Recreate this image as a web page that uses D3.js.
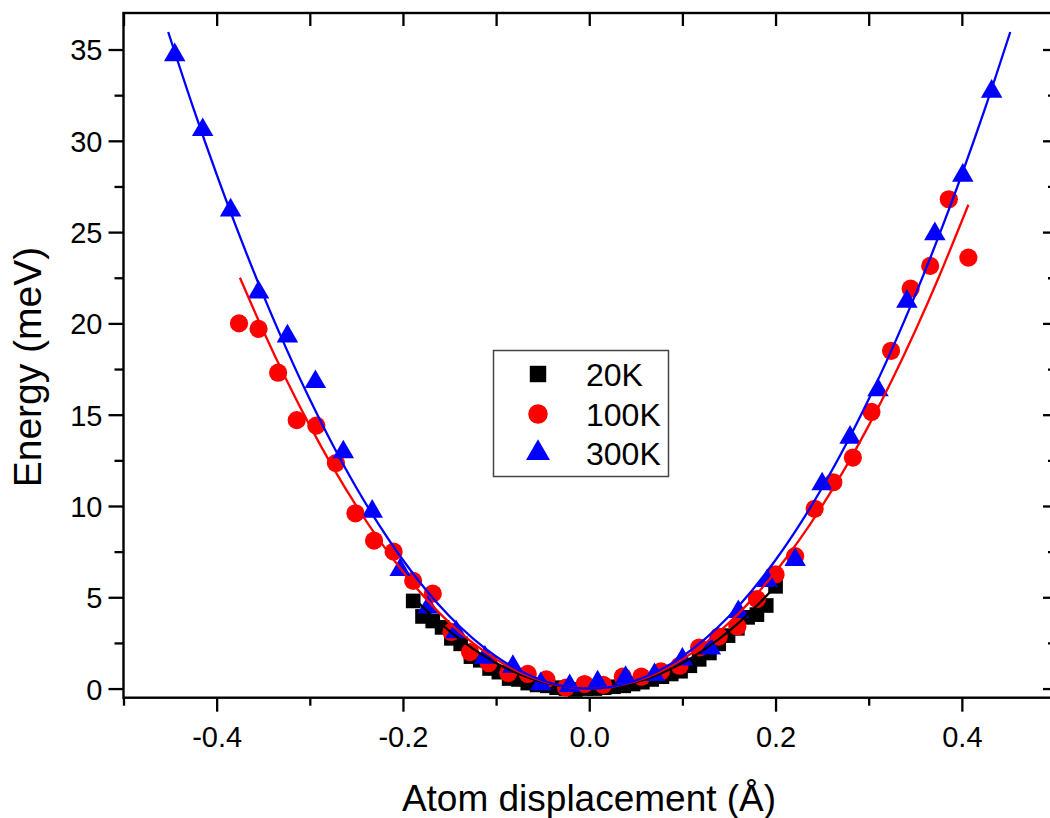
<!DOCTYPE html>
<html>
<head>
<meta charset="utf-8">
<script src="https://cdn.jsdelivr.net/npm/d3@7"></script>
<style>
  body { margin: 0; background: #fff; }
  text { font-family: "Liberation Sans", Arial, sans-serif; }
</style>
</head>
<body>
<script>
// series names and colours
var seriesNames = ["20K", "100K", "300K"];
var seriesColors = ["#000000", "#ff0000", "#0000ff"];

// 20K (squares)
var x20 = [-0.189,-0.179,-0.168,-0.158,-0.148,-0.138,-0.127,-0.117,-0.107,-0.097,
           -0.086,-0.076,-0.066,-0.056,-0.045,-0.035,-0.025,-0.015,-0.004,0.006,
           0.016,0.026,0.037,0.047,0.057,0.067,0.078,0.088,0.098,0.108,
           0.118,0.129,0.139,0.149,0.159,0.170,0.180,0.190,0.200];
var e20 = [4.8,3.95,3.7,3.35,2.75,2.45,1.75,1.55,1.1,0.9,
           0.55,0.5,0.3,0.2,0.15,0.05,0.0,-0.05,0.0,0.0,
           0.05,0.1,0.15,0.25,0.35,0.5,0.65,0.8,0.95,1.25,
           1.6,1.95,2.45,2.9,3.3,3.9,4.05,4.55,5.6];

// 100K (circles)
var x100 = [-0.376,-0.355,-0.334,-0.314,-0.293,-0.272,-0.251,-0.231,-0.210,-0.189,
            -0.168,-0.148,-0.128,-0.108,-0.087,-0.066,-0.046,-0.025,-0.005,0.015,
            0.036,0.056,0.077,0.097,0.118,0.139,0.159,0.180,0.200,0.221,
            0.242,0.262,0.283,0.303,0.324,0.345,0.366,0.386,0.407];
var e100 = [20.0,19.7,17.3,14.7,14.4,12.35,9.6,8.1,7.5,5.9,
            5.2,3.1,2.0,1.4,0.85,0.8,0.5,0.05,0.25,0.2,
            0.65,0.65,0.95,1.25,2.25,2.85,3.4,4.9,6.25,7.25,
            9.85,11.3,12.65,15.15,18.5,21.9,23.15,26.8,23.6];

// 300K (triangles)
var x300 = [-0.445,-0.415,-0.385,-0.355,-0.324,-0.294,-0.264,-0.233,-0.203,-0.173,
            -0.143,-0.112,-0.082,-0.052,-0.021,0.009,0.039,0.070,0.100,0.130,
            0.160,0.191,0.221,0.250,0.280,0.310,0.341,0.371,0.401,0.432];
var e300 = [34.7,30.6,26.2,21.7,19.3,16.8,12.95,9.7,6.5,4.45,
            3.1,1.7,1.2,0.25,0.15,0.35,0.6,0.75,1.6,2.2,
            4.2,5.9,7.05,11.2,13.75,16.35,21.2,24.9,28.1,32.7];

// fitted curves
var fitX20 = [-0.19,-0.175,-0.15,-0.125,-0.1,-0.075,-0.05,-0.025,0,0.025,0.05,0.075,0.1,0.125,0.15,0.175,0.2];
var fitE20 = [5.05,4.29,3.15,2.19,1.4,0.79,0.35,0.09,0,0.09,0.35,0.79,1.4,2.19,3.15,4.29,5.6];

var fitX100 = [-0.375,-0.35,-0.325,-0.3,-0.275,-0.25,-0.225,-0.2,-0.175,-0.15,-0.125,-0.1,-0.075,-0.05,-0.025,0,
               0.025,0.05,0.075,0.1,0.125,0.15,0.175,0.2,0.225,0.25,0.275,0.3,0.325,0.35,0.375,0.407];
var fitE100 = [22.5,19.6,16.9,14.4,12.1,10.0,8.1,6.4,4.9,3.6,2.5,1.6,0.9,0.4,0.1,0,
               0.1,0.4,0.9,1.6,2.5,3.6,4.9,6.4,8.1,10.0,12.1,14.4,16.9,19.6,22.5,26.5];

var fitX300 = [-0.452,-0.425,-0.4,-0.375,-0.35,-0.325,-0.3,-0.275,-0.25,-0.225,-0.2,-0.175,-0.15,-0.125,-0.1,-0.075,-0.05,-0.025,0,
               0.025,0.05,0.075,0.1,0.125,0.15,0.175,0.2,0.225,0.25,0.275,0.3,0.325,0.35,0.375,0.4,0.425,0.452];
var fitE300 = [35.96,31.79,28.16,24.75,21.56,18.59,15.84,13.31,11.0,8.91,7.04,5.39,3.96,2.75,1.76,0.99,0.44,0.11,0,
               0.11,0.44,0.99,1.76,2.75,3.96,5.39,7.04,8.91,11.0,13.31,15.84,18.59,21.56,24.75,28.16,31.79,35.96];

// ticks
var xMajor = [-0.4, -0.2, 0.0, 0.2, 0.4];
var xMinor = [-0.5, -0.3, -0.1, 0.1, 0.3, 0.5];
var yMajor = [0, 5, 10, 15, 20, 25, 30, 35];
var yMinor = [2.5, 7.5, 12.5, 17.5, 22.5, 27.5, 32.5];

function init()
{
    var w = 1050;
    var h = 818;

    var svg = d3.select("body")
                .append("svg")
                .attr("width", w)
                .attr("height", h);

    var x = d3.scaleLinear().domain([-0.5, 0.5]).range([123.5, 1055]);
    var y = d3.scaleLinear().domain([-0.5, 37]).range([697.7, 13]);

    var fmtX = function(d) { return d.toFixed(1); };

    // bottom axis
    var bottom = svg.append("g").attr("transform", "translate(0," + y(-0.5) + ")");
    bottom.call(d3.axisBottom(x).tickValues(xMajor).tickSize(14).tickFormat(fmtX));
    bottom.append("g").call(d3.axisBottom(x).tickValues(xMinor).tickSize(8).tickFormat(""));

    // top axis, ticks inward
    var top = svg.append("g").attr("transform", "translate(0," + y(37) + ")");
    top.call(d3.axisBottom(x).tickValues(xMajor.concat(xMinor)).tickSize(13).tickFormat(""));

    // left axis
    var left = svg.append("g").attr("transform", "translate(" + x(-0.5) + ",0)");
    left.call(d3.axisLeft(y).tickValues(yMajor).tickSize(15).tickFormat(d3.format("d")));
    left.append("g").call(d3.axisLeft(y).tickValues(yMinor).tickSize(9).tickFormat(""));

    // right axis, ticks inward
    var right = svg.append("g").attr("transform", "translate(" + x(0.5) + ",0)");
    right.call(d3.axisLeft(y).tickValues(yMajor).tickSize(12).tickFormat(""));
    right.append("g").call(d3.axisLeft(y).tickValues(yMinor).tickSize(7).tickFormat(""));

    svg.selectAll(".domain").remove();
    svg.selectAll(".tick line").attr("stroke", "#000").attr("stroke-width", 2.3);
    svg.selectAll(".tick text").attr("fill", "#000").style("font-size", "29px");
    bottom.selectAll(".tick text").attr("dy", "1.1em");
    left.selectAll(".tick text").attr("x", -21).attr("dy", "0.36em");

    // frame
    svg.append("rect")
       .attr("x", x(-0.5))
       .attr("y", y(37))
       .attr("width", x(0.5) - x(-0.5))
       .attr("height", y(-0.5) - y(37))
       .attr("fill", "none")
       .attr("stroke", "#000")
       .attr("stroke-width", 2.4);

    // symbols
    var shapes = [d3.symbolSquare, d3.symbolCircle, d3.symbolTriangle];
    var sizes = [215, 260, 200];
    var xs = [x20, x100, x300];
    var es = [e20, e100, e300];

    var plot = svg.append("g");
    for (var s = 0; s < 3; s++) {
        var pts = xs[s].map(function(v, i) { return {x: v, e: es[s][i]}; });
        plot.append("g")
            .selectAll("path")
            .data(pts)
            .enter()
            .append("path")
            .attr("d", d3.symbol().type(shapes[s]).size(sizes[s]))
            .attr("transform", function(d) { return "translate(" + x(d.x) + "," + y(d.e) + ")"; })
            .attr("fill", seriesColors[s]);
    }

    // fit lines
    var fx = [fitX20, fitX100, fitX300];
    var fe = [fitE20, fitE100, fitE300];
    var line = d3.line()
                 .x(function(d) { return x(d[0]); })
                 .y(function(d) { return y(d[1]); })
                 .curve(d3.curveCatmullRom);
    for (var k = 0; k < 3; k++) {
        var lp = fx[k].map(function(v, i) { return [v, fe[k][i]]; });
        plot.append("path")
            .attr("d", line(lp))
            .attr("fill", "none")
            .attr("stroke", seriesColors[k])
            .attr("stroke-width", 2.3);
    }

    // legend
    var lg = svg.append("g");
    lg.append("rect")
      .attr("x", 493.5).attr("y", 350.5)
      .attr("width", 175).attr("height", 126)
      .attr("fill", "#fff")
      .attr("stroke", "#444")
      .attr("stroke-width", 1.5);
    var rowY = [374, 414, 453];
    var legSizes = [270, 300, 250];
    for (var r = 0; r < 3; r++) {
        lg.append("path")
          .attr("d", d3.symbol().type(shapes[r]).size(legSizes[r]))
          .attr("transform", "translate(538," + rowY[r] + ")")
          .attr("fill", seriesColors[r]);
        lg.append("text")
          .attr("x", 586)
          .attr("y", rowY[r])
          .attr("dy", "0.36em")
          .style("font-size", "32px")
          .text(seriesNames[r]);
    }

    // axis titles
    svg.append("text")
       .attr("x", 589)
       .attr("y", 811)
       .attr("text-anchor", "middle")
       .style("font-size", "37px")
       .text("Atom displacement (Å)");

    svg.append("text")
       .attr("transform", "translate(41,367) rotate(-90)")
       .attr("text-anchor", "middle")
       .style("font-size", "39px")
       .text("Energy (meV)");
}
window.onload = init
</script>
</body>
</html>
